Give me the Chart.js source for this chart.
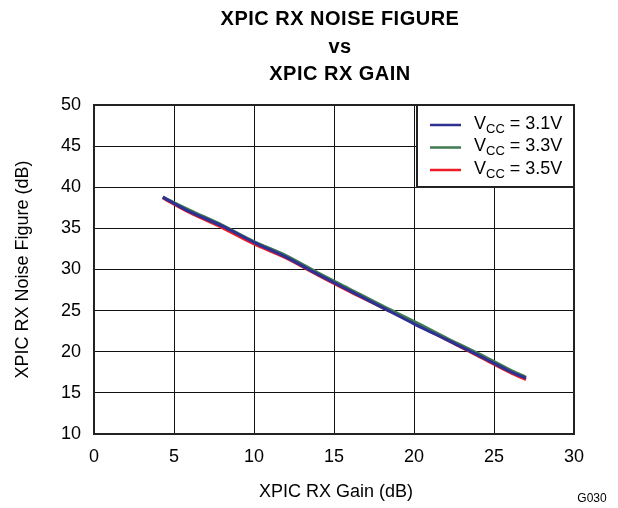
<!DOCTYPE html>
<html><head><meta charset="utf-8">
<script src="https://cdn.jsdelivr.net/npm/chart.js@4"></script>
<style>html,body{margin:0;padding:0;background:#fff}#wrap{width:618px;height:508px}</style>
</head><body><div id="wrap"><canvas id="c" width="618" height="508"></canvas></div>
<script>
const titleLines = ["XPIC RX NOISE FIGURE", "vs", "XPIC RX GAIN"];
const xTitle = "XPIC RX Gain (dB)";
const yTitle = "XPIC RX Noise Figure (dB)";
const figId = "G030";
const gain = [4.3, 6, 8, 10, 12, 14, 16, 18, 20, 22, 24, 26, 27];
const nf31 = [38.8, 37.0, 35.3, 33.3, 31.5, 29.4, 27.4, 25.4, 23.4, 21.5, 19.6, 17.6, 16.8];
const nf33 = [38.8, 37.2, 35.4, 33.4, 31.7, 29.6, 27.6, 25.6, 23.7, 21.7, 19.8, 17.8, 16.9];
const nf35 = [38.7, 36.9, 35.1, 33.1, 31.4, 29.3, 27.3, 25.4, 23.5, 21.5, 19.5, 17.5, 16.6];
const seriesLabels = ["3.1V", "3.3V", "3.5V"];
const seriesColors = ["#2e3192", "#3f7a52", "#ed1c24"];
const xTicks = [0, 5, 10, 15, 20, 25, 30];
const yTicks = [10, 15, 20, 25, 30, 35, 40, 45, 50];

const FONT = "'Liberation Sans', Arial, sans-serif";
const toPts = (ys) => gain.map((g, i) => ({x: g, y: ys[i]}));

const decor = {
  id: 'decor',
  afterDraw(chart) {
    const ctx = chart.ctx, a = chart.chartArea;
    ctx.save();
    // frame
    ctx.strokeStyle = '#222';
    ctx.lineWidth = 2;
    ctx.strokeRect(a.left, a.top, a.right - a.left, a.bottom - a.top);
    // title
    ctx.fillStyle = '#000';
    ctx.font = 'bold 20px ' + FONT;
    ctx.textAlign = 'center';
    ctx.textBaseline = 'alphabetic';
    ctx.letterSpacing = '0.5px';
    titleLines.forEach((t, i) => ctx.fillText(t, 340, 25 + i * 27.5));
    ctx.letterSpacing = '0px';
    // axis titles
    ctx.textBaseline = 'middle';
    ctx.font = '18px ' + FONT;
    ctx.fillText(xTitle, 336, 492);
    ctx.save();
    ctx.translate(23, (a.top + a.bottom) / 2);
    ctx.rotate(-Math.PI / 2);
    ctx.fillText(yTitle, 0, 0);
    ctx.restore();
    ctx.font = '12px ' + FONT;
    ctx.fillText(figId, 592, 499);
    // legend
    const lx = 417, ly = a.top, lw = a.right - lx, lh = 82;
    ctx.fillStyle = '#fff';
    ctx.fillRect(lx, ly, lw, lh);
    ctx.strokeStyle = '#222';
    ctx.lineWidth = 2;
    ctx.strokeRect(lx, ly, lw, lh);
    chart.data.datasets.forEach((ds, i) => {
      const y = ly + 20 + i * 22.5;
      ctx.strokeStyle = ds.borderColor;
      ctx.lineWidth = 2.5;
      ctx.beginPath(); ctx.moveTo(430, y); ctx.lineTo(461, y); ctx.stroke();
      ctx.fillStyle = '#000';
      ctx.textAlign = 'left';
      ctx.textBaseline = 'middle';
      ctx.font = '18px ' + FONT;
      let x = 474;
      ctx.fillText('V', x, y - 1); x += ctx.measureText('V').width;
      ctx.font = '13px ' + FONT;
      ctx.fillText('CC', x, y + 4); x += ctx.measureText('CC').width;
      ctx.font = '18px ' + FONT;
      ctx.fillText(' = ' + seriesLabels[i], x, y - 1);
    });
    ctx.restore();
  }
};

new Chart(document.getElementById('c'), {
  type: 'line',
  data: {
    datasets: [
      {label: 'VCC = ' + seriesLabels[0], data: toPts(nf31), borderColor: seriesColors[0]},
      {label: 'VCC = ' + seriesLabels[1], data: toPts(nf33), borderColor: seriesColors[1]},
      {label: 'VCC = ' + seriesLabels[2], data: toPts(nf35), borderColor: seriesColors[2]}
    ].map(d => Object.assign(d, {borderWidth: 3, pointRadius: 0, tension: 0.3, fill: false}))
  },
  options: {
    responsive: false,
    animation: false,
    devicePixelRatio: 1,
    layout: {padding: {top: 105, right: 44, left: 0, bottom: 0}},
    plugins: {legend: {display: false}, title: {display: false}, tooltip: {enabled: false}},
    scales: {
      x: {
        type: 'linear', min: 0, max: 30,
        afterFit: s => { s.height = 74; },
        afterBuildTicks: s => { s.ticks = xTicks.map(v => ({value: v})); },
        grid: {color: '#111', lineWidth: 1, drawTicks: false},
        border: {display: false},
        ticks: {color: '#000', padding: 12, font: {family: FONT, size: 18}}
      },
      y: {
        type: 'linear', min: 10, max: 50,
        afterFit: s => { s.width = 94; },
        afterBuildTicks: s => { s.ticks = yTicks.map(v => ({value: v})); },
        grid: {color: '#111', lineWidth: 1, drawTicks: false},
        border: {display: false},
        ticks: {color: '#000', padding: 13, font: {family: FONT, size: 18}}
      }
    }
  },
  plugins: [decor]
});
</script></body></html>
